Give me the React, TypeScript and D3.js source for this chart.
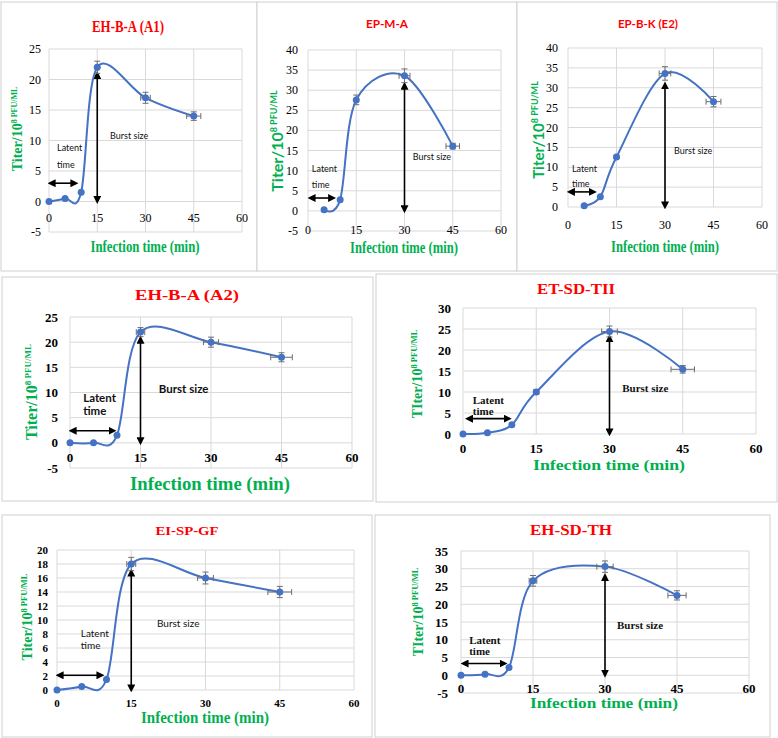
import React from "react";
import * as d3 from "d3";

// ---------- data ----------
const panelNames = ["EH-B-A (A1)", "EP-M-A", "EP-B-K (E2)", "EH-B-A (A2)", "ET-SD-TII", "EI-SP-GF", "EH-SD-TH"];
const yTitleWords = ["Titer", "Titer", "Titer", "Titer", "TIter", "Titer", "TIter"];
const xTicks = [0, 15, 30, 45, 60];
const xAxisTitle = "Infection time (min)";
const latentLabel = ["Latent", "time"];
const burstLabel = "Burst size";

const timesA1 = [0, 5, 10, 15, 30, 45];
const titerA1 = [0, 0.5, 1.5, 22, 17, 14];
const yErrA1 = [0, 0, 0, 1, 0.9, 0.7];
const xErrA1 = [0, 0, 0, 0.4, 1.5, 2.2];

const timesEPMA = [5, 10, 15, 30, 45];
const titerEPMA = [0.3, 2.8, 27.6, 33.6, 16.1];
const yErrEPMA = [0, 0, 1.2, 1.7, 0.7];
const xErrEPMA = [0, 0, 0.3, 1.7, 2.1];

const timesE2 = [5, 10, 15, 30, 45];
const titerE2 = [0.3, 2.6, 12.6, 33.6, 26.5];
const yErrE2 = [0, 0, 0.4, 1.7, 1.3];
const xErrE2 = [0, 0, 0.3, 1.8, 2.3];

const timesA2 = [0, 5, 10, 15, 30, 45];
const titerA2 = [0, 0, 1.5, 22, 20, 17];
const yErrA2 = [0, 0, 0, 0.9, 1, 0.9];
const xErrA2 = [0, 0, 0, 0.9, 1.6, 2.3];

const timesTII = [0, 5, 10, 15, 30, 45];
const titerTII = [0, 0.3, 2.2, 10, 24.4, 15.4];
const yErrTII = [0, 0, 0, 0.3, 1.3, 0.9];
const xErrTII = [0, 0, 0, 0.5, 1.6, 2.4];

const timesGF = [0, 5, 10, 15, 30, 45];
const titerGF = [0, 0.5, 1.5, 18, 16, 14];
const yErrGF = [0, 0, 0, 0.95, 0.85, 0.8];
const xErrGF = [0, 0, 0, 0.9, 1.6, 2.4];

const timesTH = [0, 5, 10, 15, 30, 45];
const titerTH = [0, 0.3, 2.2, 26.6, 30.6, 22.5];
const yErrTH = [0, 0, 0, 1.5, 1.6, 1.3];
const xErrTH = [0, 0, 0, 0.8, 1.7, 1.9];

// y axis: [min, max, step]
const yRanges = [[-5, 25, 5], [-5, 40, 5], [0, 40, 5], [-5, 25, 5], [0, 30, 5], [0, 20, 2], [-5, 35, 5]];

const seriesTimes = [timesA1, timesEPMA, timesE2, timesA2, timesTII, timesGF, timesTH];
const seriesTiter = [titerA1, titerEPMA, titerE2, titerA2, titerTII, titerGF, titerTH];
const seriesYErr = [yErrA1, yErrEPMA, yErrE2, yErrA2, yErrTII, yErrGF, yErrTH];
const seriesXErr = [xErrA1, xErrEPMA, xErrE2, xErrA2, xErrTII, xErrGF, xErrTH];

// annotation positions in data units
const latentArrows = [[0, 8.7, 3], [0.3, 8.3, 3.2], [0.1, 8.5, 3.8], [0, 9.6, 2.4], [0.7, 9.7, 3.65], [0, 9.3, 2.1], [0.2, 9.4, 3.3]];
const latentTextPos = [[2.5, 8.2], [1.2, 9.7], [1.2, 8.8], [2.8, 8.1], [2, 7.1], [4.8, 7.6], [1.7, 8.7]];
const burstArrows = [[15, 21], [30, 31.5], [30, 31], [15, 20.8], [30, 23.2], [15, 17], [30, 28.1]];
const burstTextPos = [[19, 10.2], [32.6, 12.7], [32.8, 13.3], [18.9, 9.9], [32.6, 10], [20.2, 9], [32.5, 12.9]];

// ---------- layout ----------
const SERIF = "'Liberation Serif', 'Times New Roman', serif";
const SANS = "Lato, 'Liberation Sans', sans-serif";
const RED = "#FF0000";
const GREEN = "#00B050";
const BLUE = "#4472C4";
const GRID = "#D9D9D9";

type Layout = {
  box: number[];
  px: number[];
  py: number[];
  title: { x: number; y: number; size: number; len: number; sans?: boolean };
  yTitle: { x: number; y: number; size: number; sup: number; sans?: boolean };
  xTitle: { x: number; y: number; size: number; len: number };
  tick: { size: number; bold: boolean; gap: number; dy: number };
  ann: { sans: boolean; size: number; bold: boolean; lh: number };
};

const layouts: Layout[] = [
  {
    box: [1, 2, 257, 271], px: [49, 242], py: [49, 232],
    title: { x: 128, y: 32, size: 16, len: 72 },
    yTitle: { x: 22, y: 129, size: 14, sup: 8 },
    xTitle: { x: 145, y: 252, size: 17, len: 109 },
    tick: { size: 12, bold: false, gap: 8, dy: 16 },
    ann: { sans: true, size: 9, bold: false, lh: 17 },
  },
  {
    box: [257, 2, 517, 271], px: [308, 501], py: [50, 231],
    title: { x: 387, y: 28, size: 12, len: 42, sans: true },
    yTitle: { x: 283, y: 141, size: 16, sup: 9, sans: true },
    xTitle: { x: 404, y: 253, size: 17, len: 108 },
    tick: { size: 12, bold: false, gap: 10, dy: 19 },
    ann: { sans: true, size: 9, bold: false, lh: 16 },
  },
  {
    box: [517, 2, 777, 271], px: [568, 762], py: [48, 207],
    title: { x: 648, y: 28, size: 12, len: 60, sans: true },
    yTitle: { x: 544, y: 130, size: 15, sup: 9, sans: true },
    xTitle: { x: 665, y: 252, size: 17, len: 108 },
    tick: { size: 12, bold: false, gap: 10, dy: 18 },
    ann: { sans: true, size: 9, bold: false, lh: 15 },
  },
  {
    box: [2, 277, 373, 501], px: [70, 352], py: [317, 468],
    title: { x: 187, y: 300, size: 15, len: 104 },
    yTitle: { x: 37, y: 392, size: 16, sup: 9 },
    xTitle: { x: 210, y: 490, size: 18, len: 160 },
    tick: { size: 13, bold: true, gap: 12, dy: 15 },
    ann: { sans: true, size: 11.5, bold: true, lh: 12.5 },
  },
  {
    box: [376, 274, 777, 502], px: [463, 756], py: [308, 434],
    title: { x: 576, y: 294, size: 14, len: 78 },
    yTitle: { x: 422, y: 374, size: 14, sup: 8.5 },
    xTitle: { x: 609, y: 470, size: 15, len: 152 },
    tick: { size: 13, bold: true, gap: 12, dy: 14 },
    ann: { sans: false, size: 11, bold: true, lh: 11 },
  },
  {
    box: [2, 515, 372, 737], px: [57, 354], py: [550, 690],
    title: { x: 187, y: 535, size: 13, len: 63 },
    yTitle: { x: 32, y: 617, size: 14, sup: 8.5 },
    xTitle: { x: 205, y: 723, size: 16, len: 128 },
    tick: { size: 11, bold: true, gap: 9, dy: 13 },
    ann: { sans: true, size: 10, bold: false, lh: 12 },
  },
  {
    box: [375, 515, 770, 737], px: [461, 749], py: [551, 693],
    title: { x: 571, y: 535, size: 15, len: 82 },
    yTitle: { x: 423, y: 612, size: 14, sup: 8.5 },
    xTitle: { x: 604, y: 708, size: 15, len: 148 },
    tick: { size: 13, bold: true, gap: 13, dy: 13 },
    ann: { sans: false, size: 11, bold: true, lh: 11 },
  },
];

function Panel({ i }: { i: number }) {
  const L = layouts[i];
  const [yMin, yMax, yStep] = yRanges[i];
  const x = d3.scaleLinear().domain([0, 60]).range(L.px);
  const y = d3.scaleLinear().domain([yMax, yMin]).range(L.py);
  const yTicks = d3.range(yMin, yMax + yStep / 2, yStep);
  const times = seriesTimes[i];
  const vals = seriesTiter[i];
  const pts: [number, number][] = times.map((t, k) => [x(t), y(vals[k])]);
  const line = d3.line().curve(d3.curveCardinal.tension(0))(pts) || "";
  const y0 = y(0);
  const [lx0, lx1, ly] = latentArrows[i];
  const [ltx, lty] = latentTextPos[i];
  const [bx, btop] = burstArrows[i];
  const [btx, bty] = burstTextPos[i];
  const annFont = L.ann.sans ? SANS : SERIF;
  const cap = 3;
  return (
    <g>
      <rect x={L.box[0]} y={L.box[1]} width={L.box[2] - L.box[0]} height={L.box[3] - L.box[1]} fill="#fff" stroke="#D0D0D0" strokeWidth={1} />
      {yTicks.map((v) => (
        <line key={"h" + v} x1={L.px[0]} x2={L.px[1]} y1={y(v)} y2={y(v)} stroke={GRID} strokeWidth={1} />
      ))}
      {xTicks.map((v) => (
        <line key={"v" + v} x1={x(v)} x2={x(v)} y1={L.py[0]} y2={L.py[1]} stroke={GRID} strokeWidth={1} />
      ))}
      {yTicks.map((v) => (
        <text key={"yl" + v} x={L.px[0] - L.tick.gap} y={y(v)} textAnchor="end" dominantBaseline="central"
          fontFamily={SERIF} fontSize={L.tick.size} fontWeight={L.tick.bold ? "bold" : "normal"} fill="#000">{v}</text>
      ))}
      {xTicks.map((v) => (
        <text key={"xl" + v} x={x(v)} y={y0 + L.tick.dy} textAnchor="middle" dominantBaseline="central"
          fontFamily={SERIF} fontSize={L.tick.size} fontWeight={L.tick.bold ? "bold" : "normal"} fill="#000">{v}</text>
      ))}
      <text x={L.title.x} y={L.title.y} textAnchor="middle" fontFamily={L.title.sans ? SANS : SERIF} fontWeight="bold"
        fontSize={L.title.size} fill={RED} textLength={L.title.len} lengthAdjust="spacingAndGlyphs">{panelNames[i]}</text>
      <text transform={`translate(${L.yTitle.x},${L.yTitle.y}) rotate(-90)`} textAnchor="middle"
        fontFamily={L.yTitle.sans ? SANS : SERIF} fontWeight="bold" fill={GREEN}>
        <tspan fontSize={L.yTitle.size}>{yTitleWords[i] + "/10"}</tspan>
        <tspan fontSize={L.yTitle.sup} dy={-L.yTitle.size * 0.38}>{"8 PFU/ML"}</tspan>
      </text>
      <text x={L.xTitle.x} y={L.xTitle.y} textAnchor="middle" fontFamily={SERIF} fontWeight="bold"
        fontSize={L.xTitle.size} fill={GREEN} textLength={L.xTitle.len} lengthAdjust="spacingAndGlyphs">{xAxisTitle}</text>
      <line x1={x(lx0) + 1} x2={x(lx1) - 1} y1={y(ly)} y2={y(ly)} stroke="#000" strokeWidth={1.6}
        markerStart="url(#arr)" markerEnd="url(#arr)" />
      <line x1={x(bx)} x2={x(bx)} y1={y(btop)} y2={y0} stroke="#000" strokeWidth={1.6}
        markerStart="url(#arr)" markerEnd="url(#arr)" />
      <text fontFamily={annFont} fontSize={L.ann.size} fontWeight={L.ann.bold ? "bold" : "normal"} fill="#111">
        <tspan x={x(ltx)} y={y(lty)}>{latentLabel[0]}</tspan>
        <tspan x={x(ltx)} y={y(lty) + L.ann.lh}>{latentLabel[1]}</tspan>
      </text>
      <text x={x(btx)} y={y(bty)} fontFamily={annFont} fontSize={L.ann.size} fontWeight={L.ann.bold ? "bold" : "normal"} fill="#111">{burstLabel}</text>
      <path d={line} fill="none" stroke={BLUE} strokeWidth={2} />
      {times.map((t, k) => {
        const ye = seriesYErr[i][k];
        const xe = seriesXErr[i][k];
        const cx = x(t);
        const cy = y(vals[k]);
        return (
          <g key={"e" + k} stroke="#6E6E6E" strokeWidth={1}>
            {ye > 0 && (
              <>
                <line x1={cx} x2={cx} y1={y(vals[k] + ye)} y2={y(vals[k] - ye)} />
                <line x1={cx - cap} x2={cx + cap} y1={y(vals[k] + ye)} y2={y(vals[k] + ye)} />
                <line x1={cx - cap} x2={cx + cap} y1={y(vals[k] - ye)} y2={y(vals[k] - ye)} />
              </>
            )}
            {xe > 0 && (
              <>
                <line x1={x(t - xe)} x2={x(t + xe)} y1={cy} y2={cy} />
                <line x1={x(t - xe)} x2={x(t - xe)} y1={cy - cap} y2={cy + cap} />
                <line x1={x(t + xe)} x2={x(t + xe)} y1={cy - cap} y2={cy + cap} />
              </>
            )}
          </g>
        );
      })}
      {pts.map(([cx, cy], k) => (
        <circle key={"p" + k} cx={cx} cy={cy} r={3.5} fill={BLUE} />
      ))}
    </g>
  );
}

export default function App() {
  return (
    <svg width={778} height={738} viewBox="0 0 778 738"
      style={{ position: "absolute", left: 0, top: 0, display: "block", background: "#fff" }}>
      <defs>
        <marker id="arr" viewBox="0 0 10 10" refX={7} refY={5} markerWidth={8} markerHeight={8}
          markerUnits="userSpaceOnUse" orient="auto-start-reverse">
          <path d="M0,0 L10,5 L0,10 z" fill="#000" />
        </marker>
      </defs>
      <rect x={0} y={0} width={778} height={738} fill="#fff" />
      {panelNames.map((_, i) => (
        <Panel key={i} i={i} />
      ))}
    </svg>
  );
}
